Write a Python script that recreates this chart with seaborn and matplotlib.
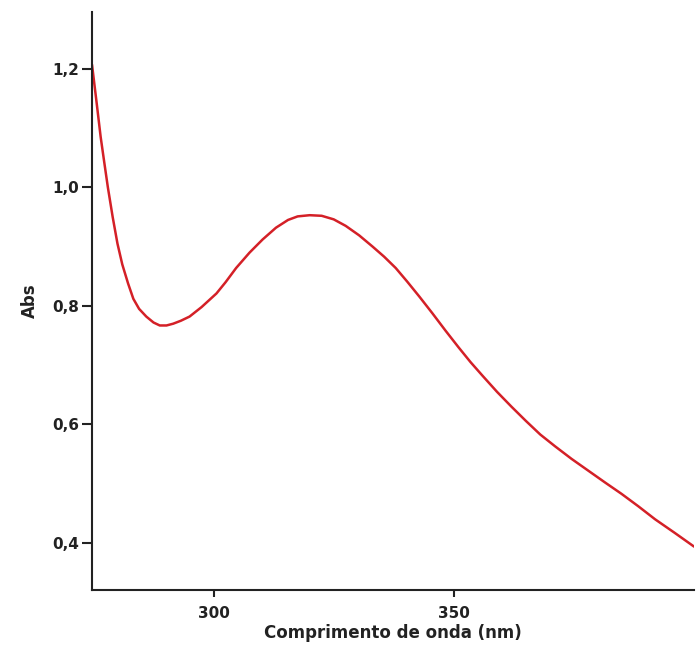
import numpy as np
import pandas
import seaborn as sns
import matplotlib.pyplot as plt
from matplotlib.ticker import FuncFormatter
sns.set_style('ticks')
plt.rcParams['font.family'] = ['DejaVu Sans']

wavelength = [274.7, 275.7, 276.5, 277.2, 278.0, 279.0, 280.0, 281.0, 282.2, 283.3,
              284.5, 286.0, 287.5, 288.8, 290.2, 291.6, 293.2, 295.0, 297.5, 300.6,
              302.5, 304.7, 307.5, 310.2, 313.0, 315.5, 317.5, 320.0, 322.5, 325.0,
              327.5, 330.3, 333.1, 335.5, 337.9, 340.3, 342.8, 345.5, 348.3, 351.0,
              353.5, 356.0, 359.0, 362.0, 365.0, 368.0, 371.1, 374.5, 378.0, 381.5,
              384.9, 388.4, 391.9, 396.0, 400.0]
absorbance = [1.207, 1.140, 1.085, 1.045, 1.000, 0.950, 0.905, 0.870, 0.838, 0.812,
              0.795, 0.782, 0.772, 0.767, 0.767, 0.770, 0.775, 0.782, 0.798, 0.821,
              0.840, 0.864, 0.890, 0.912, 0.932, 0.945, 0.951, 0.953, 0.952, 0.946,
              0.935, 0.919, 0.900, 0.883, 0.864, 0.841, 0.816, 0.788, 0.758, 0.730,
              0.705, 0.682, 0.655, 0.630, 0.606, 0.583, 0.563, 0.542, 0.522, 0.502,
              0.483, 0.462, 0.440, 0.417, 0.394]

df = pandas.DataFrame({'nm': wavelength, 'abs': absorbance})

fig = plt.figure(figsize=(6.96, 6.59), dpi=100)
ax = fig.add_axes([0.1322, 0.104, 0.865, 0.878])
sns.lineplot(data=df, x='nm', y='abs', color='#d42027', linewidth=1.8, ax=ax)

ax.set_xlim(274.7, 400)
ax.set_ylim(0.32, 1.296)
ax.set_xticks([300, 350])
ax.set_yticks([0.4, 0.6, 0.8, 1.0, 1.2])
ax.yaxis.set_major_formatter(FuncFormatter(lambda v, p: '{:.1f}'.format(v).replace('.', ',')))
ax.tick_params(axis='both', labelsize=11, width=1.5, color='#222222')
ax.tick_params(axis='y', length=7, pad=2)
ax.tick_params(axis='x', length=5, pad=6)
for lab in ax.get_xticklabels() + ax.get_yticklabels():
    lab.set_fontweight('bold')
    lab.set_color('#222222')
sns.despine(ax=ax)
for s in ['left', 'bottom']:
    ax.spines[s].set_linewidth(1.5)
    ax.spines[s].set_color('#222222')

ax.set_xlabel('Comprimento de onda (nm)', fontsize=12, fontweight='bold', color='#222222', labelpad=2)
ax.set_ylabel('Abs', fontsize=12, fontweight='bold', color='#222222', labelpad=10)

plt.savefig('out.png', dpi=100)
